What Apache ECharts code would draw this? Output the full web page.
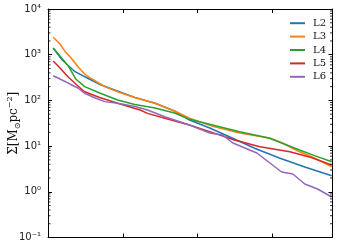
<!DOCTYPE html>
<html><head><meta charset="utf-8">
<script src="https://cdn.jsdelivr.net/npm/echarts@6/dist/echarts.min.js"></script>
<style>html,body{margin:0;padding:0;background:#fff}#c{width:343px;height:241px}</style>
</head><body><div id="c"></div>
<script>
const seriesNames = ['L2', 'L3', 'L4', 'L5', 'L6'];
const colors = ['#1f77b4', '#ff7f0e', '#2ca02c', '#d62728', '#9467bd'];
const L2 = [[0.07,1380],[0.19,766],[0.36,425],[0.53,305],[0.71,217],[0.89,169],[1.16,116],[1.43,86.5],[1.69,58.6],[1.89,37.2],[2.16,24.9],[2.43,15.8],[2.76,8.95],[3.09,5.5],[3.43,3.49],[3.79,2.25]];
const L3 = [[0.07,2405],[0.16,1714],[0.23,1164],[0.32,805],[0.40,546],[0.49,378],[0.57,305],[0.76,200],[0.93,155],[1.16,116],[1.43,86.5],[1.69,58.6],[1.89,40.6],[2.20,27],[2.56,19.4],[2.96,15.0],[3.13,11.7],[3.36,7.5],[3.56,5.5],[3.79,3.54]];
const L4 = [[0.07,1403],[0.16,937],[0.27,566],[0.37,294],[0.49,200],[0.69,145],[0.93,102],[1.16,81],[1.43,68],[1.69,53],[1.89,38.5],[2.29,26.6],[2.56,20.7],[2.96,14.8],[3.36,8.2],[3.56,6.2],[3.79,4.56]];
const L5 = [[0.07,728],[0.16,512],[0.27,325],[0.40,207],[0.49,155],[0.69,116],[0.93,86.5],[1.23,61.7],[1.33,52],[1.56,40.6],[1.89,29],[2.16,20.7],[2.49,13.6],[2.83,9.7],[3.23,7.5],[3.49,5.8],[3.79,3.86]];
const L6 = [[0.07,347],[0.16,294],[0.29,229],[0.40,187],[0.49,143],[0.63,113],[0.76,94],[0.93,86.5],[1.16,73.6],[1.33,61.7],[1.56,44],[1.89,29],[2.16,19.4],[2.33,17.5],[2.47,11.7],[2.79,7.06],[3.12,2.71],[3.27,2.45],[3.43,1.48],[3.60,1.15],[3.79,0.77]];
const yTickLabels = {'-1':'10⁻¹','0':'10⁰','1':'10¹','2':'10²','3':'10³','4':'10⁴'};
const minorTickValues = [];
for (let k = -1; k <= 3; k++) for (let m = 2; m <= 9; m++) minorTickValues.push(m * Math.pow(10, k));

const allData = [L2, L3, L4, L5, L6];
const XMIN = 0, XMAX = 3.8, YMIN = 0.1, YMAX = 10000;

const chart = echarts.init(document.getElementById('c'), null, {renderer: 'canvas'});
const lineSeries = seriesNames.map((n, i) => ({
  name: n, type: 'line', data: allData[i], showSymbol: false, symbol: 'none',
  lineStyle: {width: 1.5, color: colors[i]}, itemStyle: {color: colors[i]}, z: 3
}));
const minorSeries = {
  type: 'custom', silent: true, data: minorTickValues.map(v => [v]),
  encode: {y: 0}, z: 5,
  renderItem: function (params, api) {
    const v = api.value(0);
    const pL = api.coord([XMIN, v]);
    const pR = api.coord([XMAX, v]);
    const st = {stroke: '#000', lineWidth: 0.8};
    return {type: 'group', children: [
      {type: 'line', shape: {x1: pL[0], y1: pL[1], x2: pL[0] + 2.5, y2: pL[1]}, style: st},
      {type: 'line', shape: {x1: pR[0], y1: pR[1], x2: pR[0] - 2.5, y2: pR[1]}, style: st}
    ]};
  }
};
const axisLine = {show: true, onZero: false, lineStyle: {color: '#000', width: 1}};
const option = {
  animation: false,
  backgroundColor: '#fff',
  grid: {left: 48, right: 10.5, top: 9, bottom: 3.5, containLabel: false, outerBoundsMode: 'none'},
  legend: {
    data: seriesNames, orient: 'vertical', left: 285, top: 11.5,
    icon: 'rect', itemWidth: 15, itemHeight: 2, itemGap: 0,
    textStyle: {fontFamily: 'DejaVu Serif', fontSize: 10, color: '#111', lineHeight: 13.4, padding: [0, 0, 0, 3]}
  },
  xAxis: [
    {type: 'value', min: XMIN, max: XMAX, interval: 1, position: 'bottom',
     axisLine: axisLine, axisTick: {show: true, inside: true, length: 4, lineStyle: {color: '#000'}},
     axisLabel: {show: false}, splitLine: {show: false}},
    {type: 'value', min: XMIN, max: XMAX, interval: 1, position: 'top',
     axisLine: axisLine, axisTick: {show: true, inside: true, length: 4, lineStyle: {color: '#000'}},
     axisLabel: {show: false}, splitLine: {show: false}}
  ],
  yAxis: [
    {type: 'log', logBase: 10, min: YMIN, max: YMAX, position: 'left',
     axisLine: axisLine, axisTick: {show: true, inside: true, length: 4, lineStyle: {color: '#000'}},
     axisLabel: {show: true, margin: 7, fontFamily: 'DejaVu Sans', fontSize: 10, color: '#222',
       formatter: v => yTickLabels[String(Math.round(Math.log10(v)))] || ''},
     splitLine: {show: false},
     name: '{a|Σ[M}{s|⊙}{a|pc}{p|−2}{a|]}', nameLocation: 'middle', nameGap: 26, nameRotate: 90,
     nameMoveOverlap: false,
     nameTextStyle: {rich: {
       a: {fontFamily: 'DejaVu Serif', fontSize: 12, color: '#111', lineHeight: 16, verticalAlign: 'middle'},
       s: {fontFamily: 'DejaVu Serif', fontSize: 8, color: '#111', lineHeight: 16, verticalAlign: 'bottom'},
       p: {fontFamily: 'DejaVu Serif', fontSize: 8, color: '#111', lineHeight: 16, verticalAlign: 'top'}
     }}},
    {type: 'log', logBase: 10, min: YMIN, max: YMAX, position: 'right',
     axisLine: axisLine, axisTick: {show: true, inside: true, length: 4, lineStyle: {color: '#000'}},
     axisLabel: {show: false}, splitLine: {show: false}}
  ],
  series: lineSeries.concat([minorSeries])
};
chart.setOption(option);
</script></body></html>
